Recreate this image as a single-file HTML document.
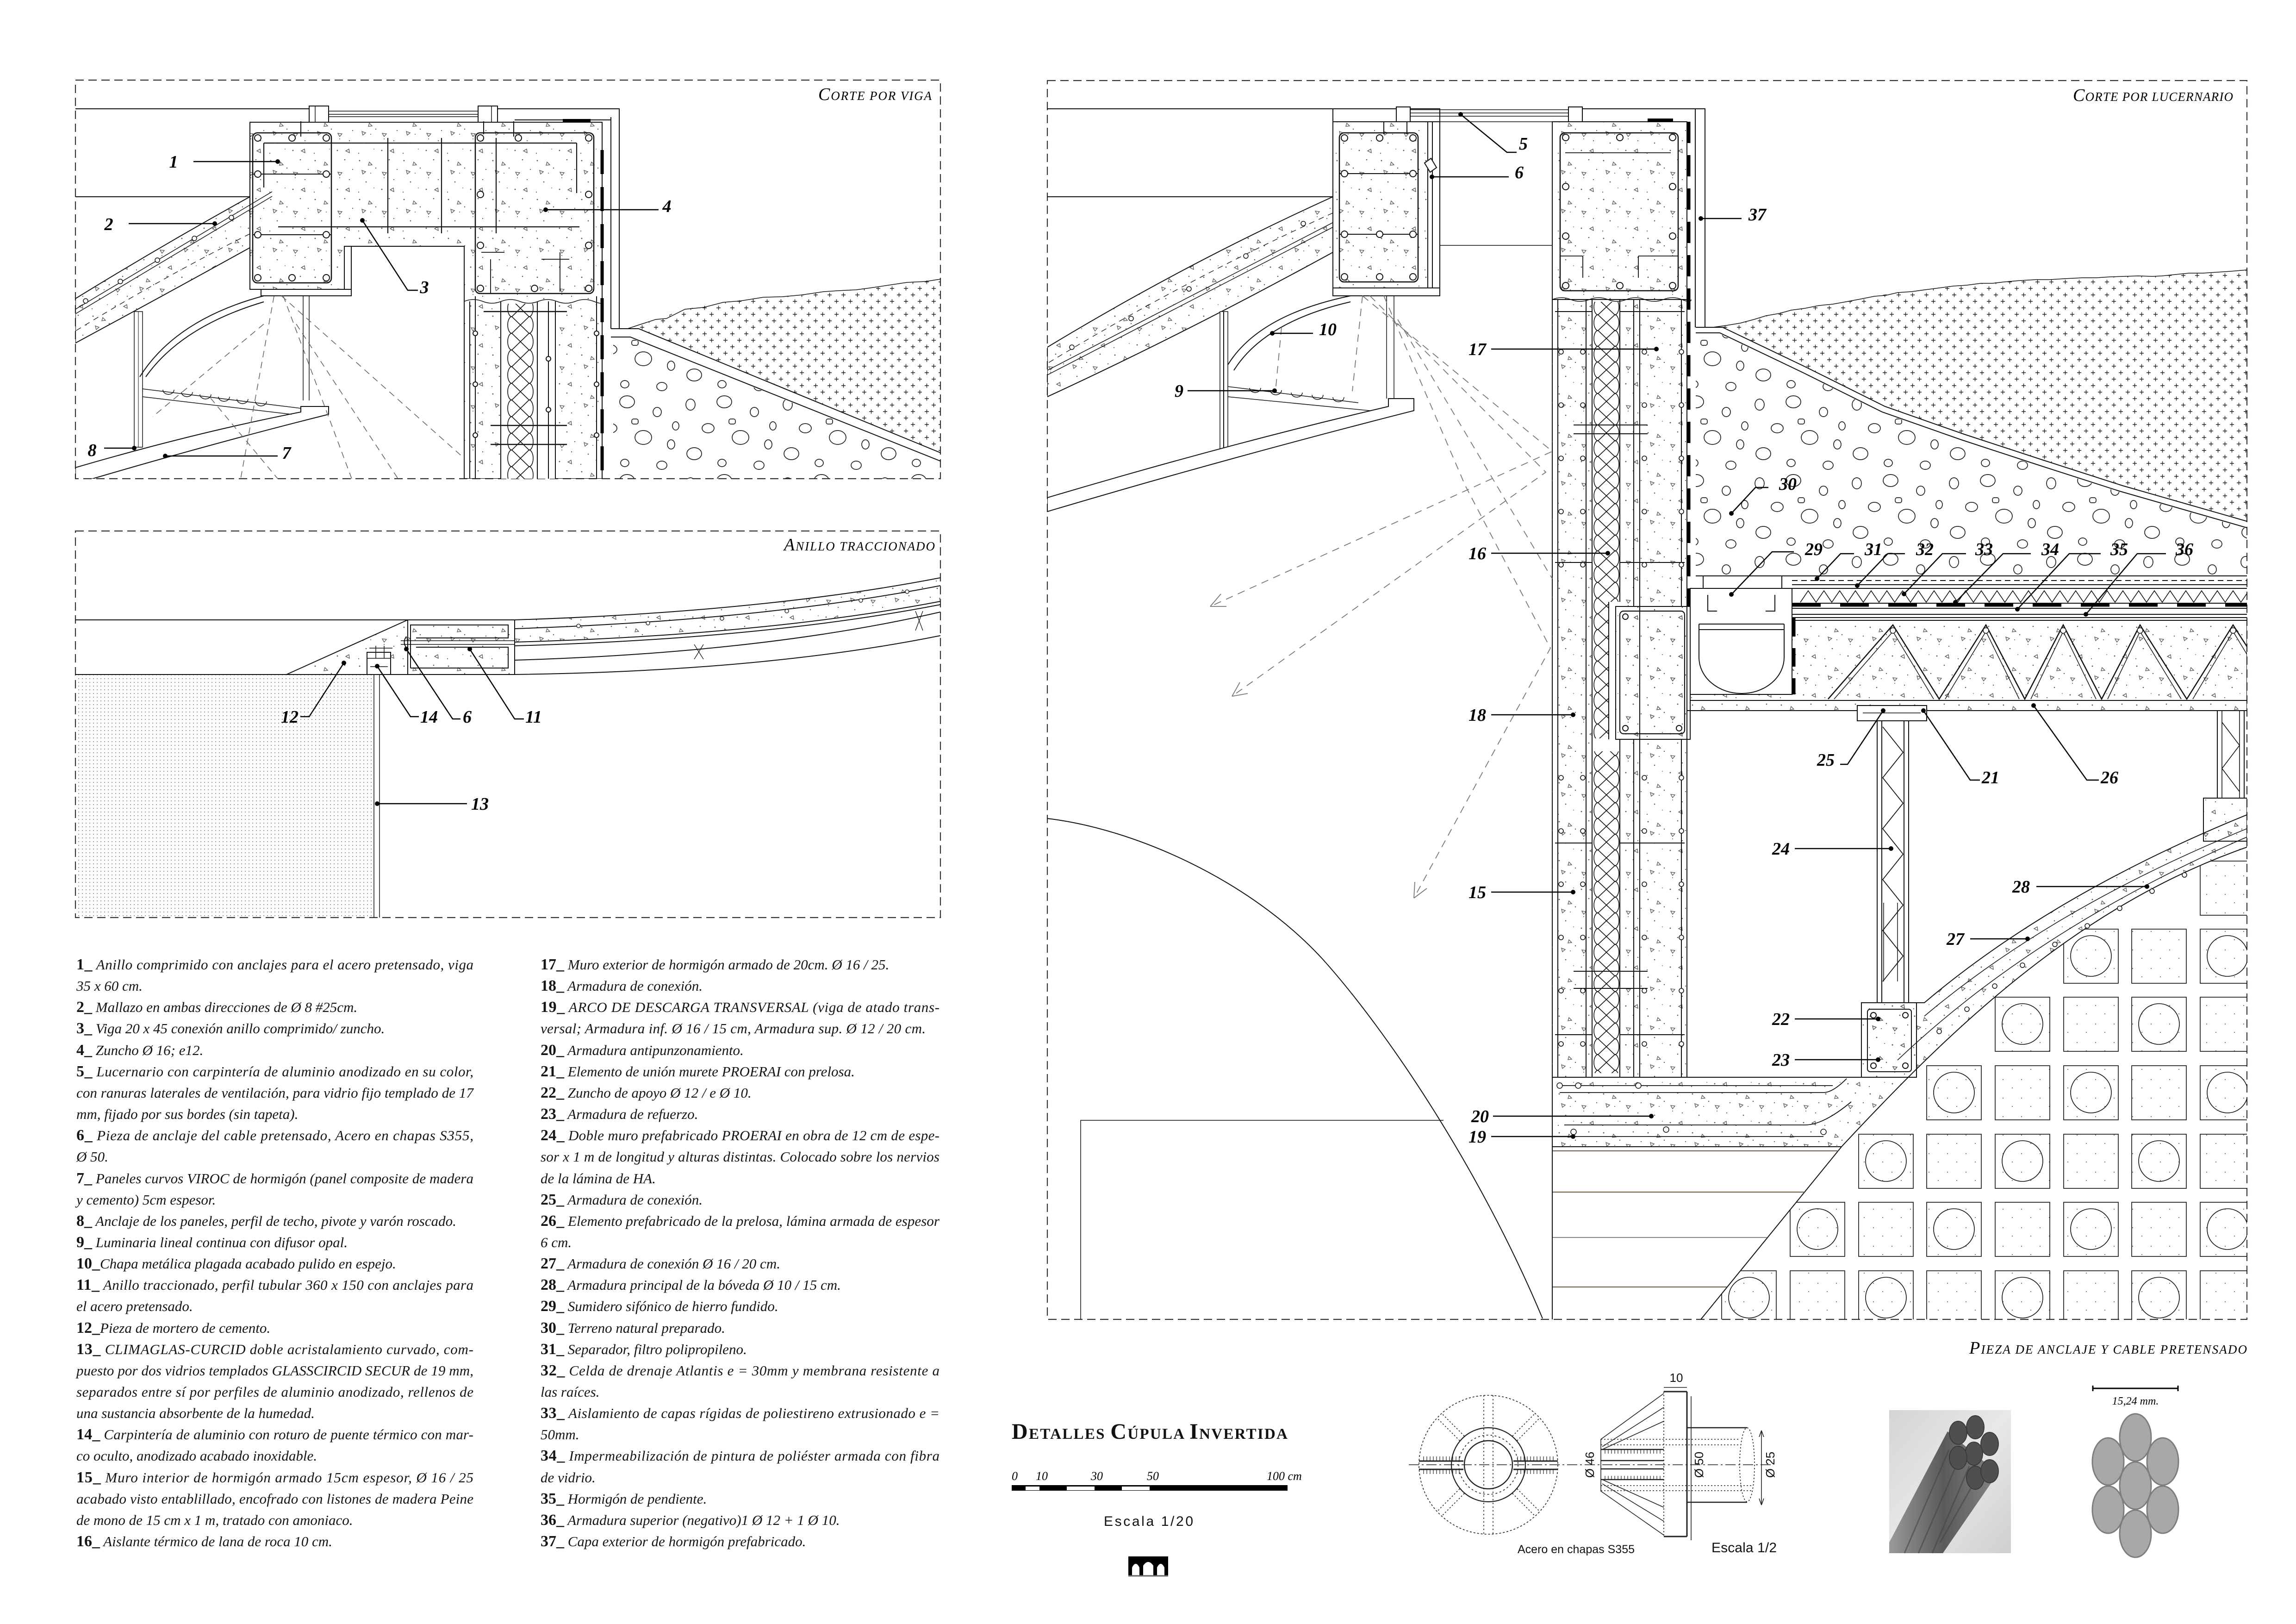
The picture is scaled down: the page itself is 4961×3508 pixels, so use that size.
<!DOCTYPE html>
<html><head><meta charset="utf-8"><title>Detalles Cúpula Invertida</title>
<style>
html,body{margin:0;padding:0;background:#fff;width:4961px;height:3508px;overflow:hidden}
svg{display:block}
.lg{font-family:"Liberation Serif",serif;font-style:italic;font-size:31px;fill:#151515}
.nb{font-weight:bold;font-style:normal;font-size:34px}
.lb{font-family:"Liberation Serif",serif;font-style:italic;font-weight:bold;font-size:38px;fill:#000}
.ti{font-family:"Liberation Serif",serif;font-style:italic;fill:#000}
.sa{font-family:"Liberation Sans",sans-serif;fill:#111}
</style></head><body>
<svg width="4961" height="3508" viewBox="0 0 4961 3508" xmlns="http://www.w3.org/2000/svg" xmlns:xlink="http://www.w3.org/1999/xlink">
<defs>
<pattern id="conc" width="96" height="84" patternUnits="userSpaceOnUse">
<g fill="#555"><circle cx="9" cy="11" r="1.4"/><circle cx="44" cy="27" r="1.2"/><circle cx="73" cy="9" r="1.3"/><circle cx="23" cy="57" r="1.3"/><circle cx="83" cy="52" r="1.1"/><circle cx="57" cy="73" r="1.4"/><circle cx="7" cy="79" r="1.1"/><circle cx="33" cy="38" r="1"/><circle cx="62" cy="48" r="1"/><circle cx="90" cy="30" r="1.1"/><circle cx="40" cy="70" r="0.9"/></g>
<g fill="none" stroke="#555" stroke-width="1.3"><path d="M58 36l9 1-5 6z"/><path d="M14 32l8 3-6 5z"/><path d="M75 74l7-4 1 8z"/><path d="M30 14l6 6-8 1z"/></g>
</pattern>
<pattern id="cross" width="30" height="28" patternUnits="userSpaceOnUse">
<path d="M3 7h9M7.5 2.5v9M18 21h9M22.5 16.5v9" stroke="#222" stroke-width="1.4" fill="none"/>
</pattern>
<pattern id="peb" width="210" height="170" patternUnits="userSpaceOnUse">
<g fill="none" stroke="#222" stroke-width="1.7">
<ellipse cx="22" cy="24" rx="10" ry="12"/><ellipse cx="95" cy="18" rx="16" ry="13"/><ellipse cx="160" cy="40" rx="9" ry="10"/>
<ellipse cx="60" cy="75" rx="13" ry="10"/><ellipse cx="130" cy="95" rx="18" ry="15"/><ellipse cx="190" cy="110" rx="8" ry="10"/>
<ellipse cx="30" cy="130" rx="16" ry="13"/><ellipse cx="90" cy="150" rx="9" ry="8"/><ellipse cx="170" cy="155" rx="11" ry="9"/>
<rect x="105" y="55" width="14" height="11" rx="4"/><ellipse cx="200" cy="70" rx="7" ry="9"/>
</g></pattern>
<pattern id="dots" width="8" height="8" patternUnits="userSpaceOnUse"><circle cx="2" cy="2" r="1" fill="#7a7a7a"/></pattern>
<pattern id="ins1" x="1094" y="0" width="61" height="36" patternUnits="userSpaceOnUse"><path d="M12 0L49 36M49 0L12 36M12 0A9 18 0 0 0 12 36M49 0A9 18 0 0 1 49 36" fill="none" stroke="#111" stroke-width="1.6"/></pattern>
<pattern id="ins3" x="3442" y="0" width="58" height="34" patternUnits="userSpaceOnUse"><path d="M11 0L47 34M47 0L11 34M11 0A9 17 0 0 0 11 34M47 0A9 17 0 0 1 47 34" fill="none" stroke="#111" stroke-width="1.6"/></pattern>
<pattern id="tdots" width="40" height="40" patternUnits="userSpaceOnUse"><circle cx="8" cy="12" r="1.1" fill="#666"/><circle cx="28" cy="30" r="1.1" fill="#666"/></pattern>
<pattern id="vt" width="7" height="10" patternUnits="userSpaceOnUse"><path d="M3 0V10" stroke="#222" stroke-width="1.2"/></pattern>
<linearGradient id="phbg" x1="0" y1="0" x2="1" y2="1"><stop offset="0" stop-color="#d4d4d4"/><stop offset="0.5" stop-color="#e8e8e8"/><stop offset="1" stop-color="#cfcfcf"/></linearGradient>
<linearGradient id="strand" x1="0" y1="0" x2="1" y2="0"><stop offset="0" stop-color="#9a9a9a"/><stop offset="0.5" stop-color="#5a5a5a"/><stop offset="1" stop-color="#858585"/></linearGradient>
<clipPath id="c1"><rect x="163" y="173" width="1869" height="861"/></clipPath>
<clipPath id="c2"><rect x="163" y="1147" width="1869" height="835"/></clipPath>
<clipPath id="c3"><rect x="2263" y="174" width="2592" height="2676"/></clipPath>
<clipPath id="ctile"><path d="M3675 2850L3979 2477C4200 2240 4480 1960 4855 1830V2850Z"/></clipPath>
<g id="rcol" fill="#fff" stroke="#111" stroke-width="1.6"><circle cx="0" cy="760" r="5"/><circle cx="0" cy="875" r="5"/><circle cx="0" cy="990" r="5"/><circle cx="0" cy="1105" r="5"/><circle cx="0" cy="1220" r="5"/><circle cx="0" cy="1680" r="5"/><circle cx="0" cy="1795" r="5"/><circle cx="0" cy="1910" r="5"/><circle cx="0" cy="2025" r="5"/><circle cx="0" cy="2140" r="5"/><circle cx="0" cy="2255" r="5"/></g>
</defs>

<rect x="0" y="0" width="4961" height="3508" fill="#fff"/>

<!-- ================= FRAMES ================= -->
<g fill="none" stroke="#333" stroke-width="2.2" stroke-dasharray="18 10">
<rect x="163" y="173" width="1869" height="861"/>
<rect x="163" y="1147" width="1869" height="835"/>
<rect x="2263" y="174" width="2592" height="2676"/>
</g>

<!-- ================= PANEL 1 : CORTE POR VIGA ================= -->
<g clip-path="url(#c1)" fill="none" stroke="#111" stroke-width="2">
<path d="M163 235H668M1076 235H1338V710"/>
<path d="M1320 253V710M1112 259H1320"/>
<rect x="1216" y="257" width="60" height="8" fill="#000" stroke="none"/>
<path d="M540 264H1301V1034H1003V532H744V625H540Z" fill="url(#conc)"/>
<path d="M564 625H759V639H564ZM744 532V625M759 532V625"/>
<rect x="668" y="229" width="42" height="35" fill="#fff"/>
<rect x="1033" y="229" width="42" height="35" fill="#fff"/>
<path d="M710 240H1033M710 247H1033M710 252H1033M681 229V264M1062 229V264" stroke-width="1.5"/>
<path d="M650 262V295M1110 262V295M1045 262V290" />
<rect x="546" y="287" width="170" height="324" rx="10" stroke-width="2.5"/>
<path d="M546 376H716M546 507H716"/>
<g fill="#fff"><circle cx="557" cy="298" r="7"/><circle cx="631" cy="298" r="7"/><circle cx="705" cy="298" r="7"/><circle cx="557" cy="376" r="7"/><circle cx="705" cy="376" r="7"/><circle cx="557" cy="507" r="7"/><circle cx="705" cy="507" r="7"/><circle cx="557" cy="600" r="7"/><circle cx="631" cy="600" r="7"/><circle cx="705" cy="600" r="7"/></g>
<rect x="1027" y="287" width="256" height="347" rx="10" stroke-width="2.5"/>
<g fill="#fff"><circle cx="1038" cy="298" r="7"/><circle cx="1120" cy="298" r="7"/><circle cx="1272" cy="298" r="7"/><circle cx="1038" cy="420" r="7"/><circle cx="1272" cy="420" r="7"/><circle cx="1038" cy="530" r="7"/><circle cx="1272" cy="530" r="7"/><circle cx="1038" cy="623" r="7"/><circle cx="1155" cy="623" r="7"/><circle cx="1272" cy="623" r="7"/></g>
<path d="M570 309H1246M601 490H1252M838 298V504M954 298V504M1072 298V504M570 309V405M1246 309V417" stroke-width="2.2"/>
<path d="M1040 545H1090M1060 560V634M1170 560H1230M1210 545V630" stroke-width="1.8"/>
<rect x="1082" y="651" width="118" height="383" fill="#fff" stroke="none"/>
<rect x="1094" y="656" width="61" height="378" fill="url(#ins1)" stroke="none"/>
<path d="M1003 651q20-8 40 0t40 0t40 0t40 0t40 0t40 0t40 0t18 0" stroke-width="1.5"/>
<path d="M1015 651V1034M1027 640V1034M1082 651V1034M1161 651V1034M1185 651V1034M1200 651V1034M1289 640V1034"/>
<path d="M1045 673H1225M1060 919H1225M1060 960H1225" stroke-width="2.5"/>
<g fill="#fff"><circle cx="1027" cy="720" r="5"/><circle cx="1027" cy="830" r="5"/><circle cx="1027" cy="940" r="5"/><circle cx="1289" cy="720" r="5"/><circle cx="1289" cy="830" r="5"/><circle cx="1289" cy="940" r="5"/><circle cx="1185" cy="775" r="5"/><circle cx="1185" cy="885" r="5"/></g>
<path d="M1301 324V1034" stroke="#000" stroke-width="7" stroke-dasharray="52 28"/>
<path d="M1356 710L1417 690L1480 668L1563 653L1650 642L1733 637L1810 628L1880 622L1960 610L2032 603V978L1380 710Z" fill="url(#cross)" stroke="none"/>
<path d="M1356 710L1380 702L1417 690L1440 688L1480 668L1520 664L1563 653L1600 650L1650 642L1690 641L1733 637L1780 630L1810 628L1850 626L1880 622L1920 616L1960 610L2000 608L2032 603" stroke-width="1.5"/>
<path d="M1320 710H1380L2032 978M1320 728H1362L2032 996"/>
<path d="M1325 730H1362L2032 998V1034H1325Z" fill="url(#peb)" stroke="none"/>
<path d="M163 425H540"/>
<path d="M540 425Q350 530 163 645V741Q350 640 540 535Z" fill="url(#conc)"/>
<path d="M588 414L163 668M588 424L163 678" stroke-width="1.5"/>
<path d="M540 505Q350 600 163 715" stroke-width="1.3" stroke-dasharray="12 10"/>
<g fill="#fff" stroke-width="1.5"><circle cx="500" cy="470" r="5"/><circle cx="420" cy="515" r="5"/><circle cx="340" cy="562" r="5"/><circle cx="260" cy="608" r="5"/><circle cx="185" cy="650" r="5"/></g>
<rect x="290" y="673" width="18" height="293" stroke-width="1.5"/>
<path d="M299 673V966" stroke-width="1"/>
<path d="M570 639Q380 690 302 814M570 652Q392 705 315 814"/>
<path d="M308 840L650 882M308 857L630 895" stroke-width="1.5"/>
<g stroke-width="1.5"><path d="M352 842a11 9 0 0 0 24 0M392 847a11 9 0 0 0 24 0M432 852a11 9 0 0 0 24 0M472 857a11 9 0 0 0 24 0M512 862a11 9 0 0 0 24 0M552 867a11 9 0 0 0 24 0"/></g>
<path d="M655 639V865M668 639V865" stroke-width="1.5"/>
<path d="M650 878H710V895Q450 960 163 1045V1010Q420 935 650 890Z"/>
<g stroke="#666" stroke-width="1.6" stroke-dasharray="14 10"><path d="M608 639L1003 990M612 639L760 1034M592 640L520 1034M455 860L600 1034M640 700L860 1034M570 700L330 900"/></g>
</g>
<text class="ti" x="2013" y="216" text-anchor="end" font-size="38" textLength="245">C<tspan font-size="27">ORTE POR VIGA</tspan></text>
<g class="lb" text-anchor="middle"><text x="375" y="362">1</text><text x="235" y="497">2</text><text x="917" y="633">3</text><text x="1441" y="458">4</text><text x="199" y="985">8</text><text x="619" y="991">7</text></g>
<path d="M418 349H600M278 483H464M783 476L881 627H903M1179 453H1423M225 968H290M357 985H600" fill="none" stroke="#000" stroke-width="2.5"/>
<g fill="#000"><circle cx="600" cy="349" r="5"/><circle cx="464" cy="483" r="5"/><circle cx="783" cy="476" r="5"/><circle cx="1179" cy="453" r="5"/><circle cx="290" cy="968" r="5"/><circle cx="357" cy="985" r="5"/></g>

<!-- ================= PANEL 2 : ANILLO TRACCIONADO ================= -->
<g clip-path="url(#c2)" fill="none" stroke="#111" stroke-width="2">
<rect x="163" y="1457" width="645" height="525" fill="url(#dots)" stroke="none"/>
<path d="M163 1339H1112M163 1457H808"/>
<path d="M619 1457L881 1339V1457Z" fill="url(#conc)"/>
<rect x="881" y="1339" width="231" height="118" fill="url(#conc)"/>
<path d="M887 1443V1350H1098V1378H899M899 1398H1098V1443H887"/>
<path d="M866 1384H1112M866 1392H1112" stroke-width="1.5"/>
<path d="M878 1375q-9 12 0 24"/>
<path d="M1112 1339Q1650 1322 2032 1248V1299Q1650 1372 1112 1387Z" fill="url(#conc)" stroke="none"/>
<path d="M1112 1339Q1650 1322 2032 1248M1112 1358Q1650 1340 2032 1265M1112 1387Q1650 1372 2032 1299M1112 1395Q1650 1380 2032 1306M1112 1426Q1650 1410 2032 1322M1112 1457Q1650 1450 2032 1373"/>
<path d="M1500 1392L1520 1424M1520 1392L1500 1424M1978 1320L1994 1362M1994 1320L1978 1362" stroke-width="1.3"/>
<g fill="#fff" stroke-width="1.3"><circle cx="1250" cy="1352" r="4"/><circle cx="1400" cy="1346" r="4"/><circle cx="1560" cy="1336" r="4"/><circle cx="1700" cy="1320" r="4"/><circle cx="1860" cy="1297" r="4"/><circle cx="1960" cy="1278" r="4"/></g>
<path d="M808 1457V1982M820 1457V1982" stroke-width="1.5"/>
<rect x="793" y="1409" width="51" height="48" fill="#fff"/>
<path d="M798 1400H848M793 1422H844M812 1395V1422M830 1395V1422M800 1440H838" stroke-width="1.5"/>
</g>
<text class="ti" x="2020" y="1189" text-anchor="end" font-size="38" textLength="326">A<tspan font-size="27">NILLO TRACCIONADO</tspan></text>
<g class="lb"><text x="645" y="1561" text-anchor="end">12</text><text x="908" y="1561">14</text><text x="1000" y="1561">6</text><text x="1135" y="1561">11</text><text x="1018" y="1749">13</text></g>
<path d="M743 1432L668 1548H649M815 1439L887 1548H905M878 1402L978 1553H995M1015 1402L1112 1553H1132M815 1736H1009" fill="none" stroke="#000" stroke-width="2.5"/>
<g fill="#000"><circle cx="743" cy="1432" r="5"/><circle cx="815" cy="1439" r="5"/><circle cx="878" cy="1402" r="5"/><circle cx="1015" cy="1402" r="5"/><circle cx="815" cy="1736" r="5"/></g>

<!-- ================= PANEL 3 : CORTE POR LUCERNARIO ================= -->
<g clip-path="url(#c3)" fill="none" stroke="#111" stroke-width="2">
<path d="M2263 235H2880M2263 425H2880"/>
<path d="M2880 425Q2560 570 2263 750V857Q2560 720 2880 545Z" fill="url(#conc)"/>
<path d="M3094 370L2263 800M3094 380L2263 810" stroke-width="1.5"/>
<path d="M2880 460Q2560 605 2263 785" stroke-width="1.3" stroke-dasharray="12 10"/>
<g fill="#fff" stroke-width="1.5"><circle cx="2816" cy="483" r="5"/><circle cx="2692" cy="553" r="5"/><circle cx="2569" cy="624" r="5"/><circle cx="2444" cy="688" r="5"/><circle cx="2316" cy="750" r="5"/></g>
<rect x="2880" y="235" width="231" height="404" fill="#fff"/>
<rect x="2880" y="263" width="205" height="359" fill="url(#conc)"/>
<path d="M3085 263V622M3095 263V622M2918 622H3111M2880 263H3111"/>
<rect x="2894" y="287" width="170" height="322" rx="10" stroke-width="2.5"/>
<path d="M2894 375H3064M2894 506H3064"/>
<g fill="#fff"><circle cx="2905" cy="298" r="7"/><circle cx="2981" cy="298" r="7"/><circle cx="3053" cy="298" r="7"/><circle cx="2905" cy="375" r="7"/><circle cx="3053" cy="375" r="7"/><circle cx="2905" cy="506" r="7"/><circle cx="2981" cy="506" r="7"/><circle cx="3053" cy="506" r="7"/><circle cx="2905" cy="598" r="7"/><circle cx="2981" cy="598" r="7"/><circle cx="3053" cy="598" r="7"/></g>
<path d="M3078 352l14-10 12 20-14 10z" fill="#fff"/>
<path d="M2990 262V290M3040 262V290" />
<path d="M3017 237H3419M3047 244H3389M3047 251H3389M3047 263H3389" stroke-width="1.5"/>
<rect x="3017" y="231" width="30" height="32" fill="#fff"/>
<rect x="3389" y="231" width="30" height="32" fill="#fff"/>
<path d="M3111 530H3354" stroke-width="1.5"/>
<path d="M3419 235H3684V707M3663 235V707M3354 263V2327"/>
<rect x="3354" y="263" width="291" height="384" fill="url(#conc)"/>
<rect x="3560" y="256" width="55" height="7" fill="#000" stroke="none"/>
<rect x="3371" y="287" width="255" height="341" rx="10" stroke-width="2.5"/>
<g fill="#fff"><circle cx="3383" cy="297" r="7"/><circle cx="3500" cy="297" r="7"/><circle cx="3614" cy="297" r="7"/><circle cx="3383" cy="403" r="7"/><circle cx="3614" cy="403" r="7"/><circle cx="3383" cy="510" r="7"/><circle cx="3614" cy="510" r="7"/><circle cx="3383" cy="617" r="7"/><circle cx="3500" cy="617" r="7"/><circle cx="3614" cy="617" r="7"/></g>
<path d="M3371 553H3420M3420 553V600M3540 553H3626M3540 553V600M3382 330H3610" stroke-width="1.8"/>
<rect x="3354" y="647" width="86" height="1680" fill="url(#conc)" stroke="none"/>
<rect x="3500" y="647" width="145" height="1680" fill="url(#conc)" stroke="none"/>
<rect x="3442" y="652" width="58" height="648" fill="url(#ins3)" stroke="none"/>
<rect x="3442" y="1300" width="34" height="295" fill="url(#ins3)" stroke="none"/>
<rect x="3442" y="1623" width="58" height="695" fill="url(#ins3)" stroke="none"/>
<path d="M3354 647q20-8 40 0t40 0t40 0t40 0t40 0t40 0t40 0t20 0" stroke-width="1.5"/>
<path d="M3366 647V2327M3427 647V2327M3440 647V2327M3500 647V1300M3500 1597V2327M3476 1300V1597M3530 647V1310M3530 1597V2327M3543 647V2327M3633 647V1310M3633 1597V2327M3645 263V2327"/>
<path d="M3360 673H3440M3500 673H3640M3360 1215H3440M3500 1215H3640M3400 918H3560M3400 937H3560M3360 1821H3440M3500 1821H3640M3400 2098H3560M3400 2135H3560M3360 2235H3440M3500 2235H3640" stroke-width="2"/>
<use xlink:href="#rcol" x="3373"/><use xlink:href="#rcol" x="3420"/><use xlink:href="#rcol" x="3553"/><use xlink:href="#rcol" x="3633"/>
<path d="M3649 263V1310" stroke="#000" stroke-width="7" stroke-dasharray="46 26"/>
<path d="M3701 707L3760 698L3816 682L3870 670L3930 660L3988 652L4050 640L4100 632L4159 626L4220 618L4280 612L4330 609L4400 604L4460 602L4500 600L4560 598L4620 596L4672 596L4730 590L4790 588L4855 583V1126L4586 1049L4415 994L4244 938L4073 878L3902 793L3722 707Z" fill="url(#cross)" stroke="none"/>
<path d="M3701 707L3730 703L3760 698L3790 690L3816 682L3845 677L3870 670L3900 666L3930 660L3960 657L3988 652L4020 646L4050 640L4075 638L4100 632L4130 630L4159 626L4190 622L4220 618L4250 616L4280 612L4305 612L4330 609L4365 606L4400 604L4430 604L4460 602L4500 600L4530 600L4560 598L4590 597L4620 596L4650 597L4672 596L4700 593L4730 590L4760 590L4790 588L4820 586L4855 583" stroke-width="1.5"/>
<path d="M3664 707H3722L3902 793L4073 878L4244 938L4415 994L4586 1049L4855 1126M3664 719H3716L3896 805L4067 890L4238 950L4409 1006L4580 1061L4855 1140"/>
<path d="M3664 721H3716L3896 807L4067 892L4238 952L4409 1008L4580 1063L4855 1142V1242H3664Z" fill="url(#peb)" stroke="none"/>
<path d="M3664 1244H4855M3872 1263H4855M3872 1271H4855M3872 1303H4855M3872 1314H4855M3872 1327H4855M3872 1334H4855"/>
<path d="M3872 1254H4855" stroke-dasharray="12 8"/>
<path d="M3890 1301l17-25l17 25l17-25l17 25l17-25l17 25l17-25l17 25l17-25l17 25l17-25l17 25l17-25l17 25l17-25l17 25l17-25l17 25l17-25l17 25l17-25l17 25l17-25l17 25l17-25l17 25l17-25l17 25l17-25l17 25l17-25l17 25l17-25l17 25l17-25l17 25l17-25l17 25l17-25l17 25l17-25l17 25l17-25l17 25l17-25l17 25l17-25l17 25l17-25l17 25l17-25l17 25l17-25l17 25l17-25l17 25l17-25l17 25" stroke-width="1.6"/>
<path d="M3872 1307H4855" stroke="#000" stroke-width="7" stroke-dasharray="62 42"/>
<rect x="3652" y="1340" width="1203" height="195" fill="url(#conc)"/>
<path d="M3652 1513H4855"/>
<path d="M3950 1510L4090 1350L4190 1510L4291 1350L4375 1510L4458 1350L4541 1510L4624 1350L4725 1510L4825 1350L4870 1420" stroke-width="2.5"/>
<path d="M3963 1510L4090 1364L4178 1510M4203 1510L4291 1364L4363 1510M4388 1510L4458 1364L4529 1510M4554 1510L4624 1364L4713 1510M4738 1510L4825 1364L4865 1430" stroke-width="1.5"/>
<g fill="#fff" stroke-width="1.5"><circle cx="4090" cy="1362" r="6"/><circle cx="4291" cy="1362" r="6"/><circle cx="4458" cy="1362" r="6"/><circle cx="4624" cy="1362" r="6"/><circle cx="4825" cy="1362" r="6"/></g>
<rect x="3652" y="1271" width="220" height="229" fill="#fff"/>
<rect x="3680" y="1244" width="170" height="27" fill="#fff"/>
<path d="M3671 1348H3855M3671 1360H3855M3671 1348V1420A92 78 0 0 0 3855 1420V1348"/>
<path d="M3690 1285v35h20M3835 1285v35h-20M3652 1500H3872M3652 1535H3872"/>
<path d="M3876 1335V1500" stroke="#000" stroke-width="7" stroke-dasharray="40 25"/>
<rect x="3491" y="1310" width="161" height="287" fill="url(#conc)"/>
<rect x="3500" y="1320" width="140" height="265" rx="8" stroke-width="2.2"/>
<g fill="#fff"><circle cx="3512" cy="1332" r="6"/><circle cx="3512" cy="1573" r="6"/><circle cx="3628" cy="1573" r="6"/></g>
<path d="M3645 1535H4855"/>
<rect x="4056" y="1535" width="68" height="631" fill="#fff"/>
<path d="M4066 1535V2166M4114 1535V2166"/>
<path d="M4068 1570L4112 1625L4068 1680L4112 1735L4068 1790L4112 1845L4068 1900L4112 1955L4068 2010L4112 2065L4068 2120" stroke-width="1.8"/>
<path d="M4070 1950V2120M4100 1950V2120" stroke-width="1.5"/>
<rect x="4013" y="1524" width="150" height="33" fill="#fff"/>
<path d="M4025 1540H4150" stroke-width="1.5"/>
<rect x="4791" y="1535" width="58" height="189" fill="#fff"/>
<path d="M4801 1535V1724M4839 1535V1724M4801 1560L4839 1610L4801 1660L4839 1710" stroke-width="1.6"/>
<rect x="4761" y="1724" width="94" height="93" fill="url(#conc)"/>
<path d="M3354 2327H4022V2166H4158C4330 2020 4560 1880 4855 1760V1830C4480 1960 4200 2240 3979 2477H3354Z" fill="url(#conc)"/>
<path d="M3979 2477L3675 2850"/>
<path d="M4158 2195C4330 2050 4560 1910 4855 1790M4100 2290C4300 2100 4550 1940 4855 1808" stroke-width="1.5"/>
<path d="M3370 2345H3960M3370 2360H3940Q3960 2360 3990 2330M3380 2430H3900Q3940 2430 4000 2380M3370 2455H3940" stroke-width="1.8"/>
<g fill="#fff" stroke-width="1.5"><circle cx="3370" cy="2345" r="6"/><circle cx="3410" cy="2345" r="6"/><circle cx="3540" cy="2345" r="6"/><circle cx="3400" cy="2445" r="6"/><circle cx="3600" cy="2440" r="6"/><circle cx="3940" cy="2445" r="6"/><circle cx="4190" cy="2228" r="5"/><circle cx="4250" cy="2180" r="5"/><circle cx="4310" cy="2130" r="5"/><circle cx="4370" cy="2085" r="5"/><circle cx="4440" cy="2040" r="5"/><circle cx="4510" cy="2000" r="5"/><circle cx="4580" cy="1962" r="5"/><circle cx="4650" cy="1925" r="5"/><circle cx="4720" cy="1890" r="5"/></g>
<rect x="4022" y="2166" width="119" height="161" fill="url(#conc)"/>
<rect x="4035" y="2180" width="95" height="135" rx="6" stroke-width="2"/>
<g fill="#fff"><circle cx="4048" cy="2193" r="6"/><circle cx="4117" cy="2193" r="6"/><circle cx="4048" cy="2302" r="6"/><circle cx="4117" cy="2302" r="6"/></g>
<path d="M3354 2486H3972" stroke="#6b5a45"/>
<path d="M3354 2575H3899" stroke="#6b5a45"/>
<path d="M3354 2673H3818" stroke="#888"/>
<path d="M3354 2780H3731" stroke="#6b5a45"/>
<path d="M3354 2327V2850"/>
<g clip-path="url(#ctile)" stroke-width="1.6">
<g fill="url(#tdots)">
<rect x="4754" y="1860" width="118" height="117"/>
<rect x="4459" y="2007" width="118" height="117"/><rect x="4606" y="2007" width="118" height="117"/><rect x="4754" y="2007" width="118" height="117"/>
<rect x="4311" y="2154" width="118" height="117"/><rect x="4459" y="2154" width="118" height="117"/><rect x="4606" y="2154" width="118" height="117"/><rect x="4754" y="2154" width="118" height="117"/>
<rect x="4163" y="2302" width="118" height="117"/><rect x="4311" y="2302" width="118" height="117"/><rect x="4459" y="2302" width="118" height="117"/><rect x="4606" y="2302" width="118" height="117"/><rect x="4754" y="2302" width="118" height="117"/>
<rect x="4016" y="2450" width="118" height="117"/><rect x="4163" y="2450" width="118" height="117"/><rect x="4311" y="2450" width="118" height="117"/><rect x="4459" y="2450" width="118" height="117"/><rect x="4606" y="2450" width="118" height="117"/><rect x="4754" y="2450" width="118" height="117"/>
<rect x="3868" y="2597" width="118" height="117"/><rect x="4016" y="2597" width="118" height="117"/><rect x="4163" y="2597" width="118" height="117"/><rect x="4311" y="2597" width="118" height="117"/><rect x="4459" y="2597" width="118" height="117"/><rect x="4606" y="2597" width="118" height="117"/><rect x="4754" y="2597" width="118" height="117"/>
<rect x="3720" y="2745" width="118" height="117"/><rect x="3868" y="2745" width="118" height="117"/><rect x="4016" y="2745" width="118" height="117"/><rect x="4163" y="2745" width="118" height="117"/><rect x="4311" y="2745" width="118" height="117"/><rect x="4459" y="2745" width="118" height="117"/><rect x="4606" y="2745" width="118" height="117"/><rect x="4754" y="2745" width="118" height="117"/>
</g>
<g>
<circle cx="4518" cy="2065" r="44"/><circle cx="4813" cy="2065" r="44"/>
<circle cx="4370" cy="2212" r="44"/><circle cx="4665" cy="2212" r="44"/>
<circle cx="4222" cy="2360" r="44"/><circle cx="4518" cy="2360" r="44"/><circle cx="4813" cy="2360" r="44"/>
<circle cx="4075" cy="2508" r="44"/><circle cx="4370" cy="2508" r="44"/><circle cx="4665" cy="2508" r="44"/>
<circle cx="3927" cy="2655" r="44"/><circle cx="4222" cy="2655" r="44"/><circle cx="4518" cy="2655" r="44"/><circle cx="4813" cy="2655" r="44"/>
<circle cx="3779" cy="2803" r="44"/><circle cx="4075" cy="2803" r="44"/><circle cx="4370" cy="2803" r="44"/><circle cx="4665" cy="2803" r="44"/>
</g>
</g>
<path d="M2263 1768C2450 1790 2700 1900 2858 2072C3000 2230 3200 2530 3333 2848"/>
<path d="M2335 2850V2420H3119" stroke-width="1.5"/>
<rect x="2636" y="673" width="17" height="303" fill="#fff" stroke-width="1.5"/>
<path d="M2644 673V976"/>
<path d="M2918 639Q2720 680 2653 788M2918 652Q2732 695 2666 800"/>
<path d="M2653 835L2935 870M2653 857L3000 891" stroke-width="1.5"/>
<path d="M2700 838a11 9 0 0 0 24 0M2745 843a11 9 0 0 0 24 0M2790 848a11 9 0 0 0 24 0M2835 853a11 9 0 0 0 24 0M2880 858a11 9 0 0 0 24 0" stroke-width="1.5"/>
<path d="M2996 639V861M3012 639V861" stroke-width="1.5"/>
<path d="M3000 861H3055V887Q2650 990 2263 1105V1075Q2650 960 3000 878Z" fill="#fff"/>
<g stroke="#777" stroke-width="1.8" stroke-dasharray="16 12">
<path d="M2944 639L3354 975L2615 1310"/>
<path d="M2960 639L3340 1020L2662 1504"/>
<path d="M2990 639L3166 1049L3350 1400L3055 1940"/>
<path d="M2944 639L2922 845M2769 707L2756 844"/>
<path d="M3020 690L3354 1250"/>
</g>
<path d="M2615 1310L2650 1310M2615 1310L2638 1283M2662 1504L2696 1498M2662 1504L2679 1474M3055 1940L3083 1919M3055 1940L3057 1905" stroke="#777" stroke-width="1.8"/>
</g>
<text class="ti" x="4825" y="218" text-anchor="end" font-size="38" textLength="346">C<tspan font-size="27">ORTE POR LUCERNARIO</tspan></text>
<g class="lb">
<text x="3282" y="323">5</text><text x="3273" y="385">6</text><text x="3778" y="476">37</text>
<text x="2850" y="724">10</text><text x="2538" y="857">9</text>
<text x="3173" y="767">17</text><text x="3173" y="1208">16</text><text x="3173" y="1557">18</text><text x="3173" y="1940">15</text>
<text x="3179" y="2424">20</text><text x="3173" y="2468">19</text>
<text x="3844" y="1058">30</text><text x="3900" y="1199">29</text><text x="4029" y="1199">31</text><text x="4140" y="1199">32</text><text x="4268" y="1199">33</text><text x="4411" y="1199">34</text><text x="4560" y="1199">35</text><text x="4701" y="1199">36</text>
<text x="3926" y="1654">25</text><text x="4282" y="1692">21</text><text x="4539" y="1692">26</text>
<text x="3829" y="1846">24</text><text x="4348" y="1928">28</text><text x="4206" y="2041">27</text><text x="3829" y="2214">22</text><text x="3829" y="2302">23</text>
</g>
<path d="M3156 247L3256 329H3277M3094 382H3260M3675 472H3763M2749 720H2837M2566 844H2754M3222 754H3579M3222 1195H3474M3222 1544H3399M3222 1927H3399M3226 2411H3568M3222 2455H3399M3741 1109L3793 1053H3821M3741 1284L3829 1192H3876M3926 1250L3977 1196H4006M4013 1265L4079 1196H4116M4114 1283L4197 1196H4248M4225 1301L4328 1196H4388M4359 1316L4471 1196H4539M4507 1327L4618 1196H4680M4069 1535L3992 1651H3976M4156 1535L4257 1685H4278M4394 1524L4509 1685H4535M3878 1833H4086M4400 1915H4639M4257 2028H4381M3878 2201H4058M3878 2289H4058" fill="none" stroke="#000" stroke-width="2.5"/>
<g fill="#000"><circle cx="3156" cy="247" r="5"/><circle cx="3094" cy="382" r="5"/><circle cx="3675" cy="472" r="5"/><circle cx="2749" cy="720" r="5"/><circle cx="2754" cy="844" r="5"/><circle cx="3579" cy="754" r="5"/><circle cx="3474" cy="1195" r="5"/><circle cx="3399" cy="1544" r="5"/><circle cx="3399" cy="1927" r="5"/><circle cx="3568" cy="2411" r="5"/><circle cx="3399" cy="2455" r="5"/><circle cx="3741" cy="1109" r="5"/><circle cx="3741" cy="1284" r="5"/><circle cx="3926" cy="1250" r="5"/><circle cx="4013" cy="1265" r="5"/><circle cx="4114" cy="1283" r="5"/><circle cx="4225" cy="1301" r="5"/><circle cx="4359" cy="1316" r="5"/><circle cx="4507" cy="1327" r="5"/><circle cx="4069" cy="1535" r="5"/><circle cx="4156" cy="1535" r="5"/><circle cx="4394" cy="1524" r="5"/><circle cx="4086" cy="1833" r="5"/><circle cx="4639" cy="1915" r="5"/><circle cx="4381" cy="2028" r="5"/><circle cx="4058" cy="2201" r="5"/><circle cx="4058" cy="2289" r="5"/></g>

<!-- ================= LEGEND ================= -->
<g class="lg">
<text x="165" y="2094" textLength="858"><tspan class="nb">1_</tspan> Anillo comprimido con anclajes para el acero pretensado, viga</text>
<text x="165" y="2140">35 x 60 cm.</text>
<text x="165" y="2186"><tspan class="nb">2_</tspan> Mallazo en ambas direcciones de Ø 8 #25cm.</text>
<text x="165" y="2232"><tspan class="nb">3_</tspan> Viga 20 x 45 conexión anillo comprimido/ zuncho.</text>
<text x="165" y="2279"><tspan class="nb">4_</tspan> Zuncho Ø 16; e12.</text>
<text x="165" y="2325" textLength="858"><tspan class="nb">5_</tspan> Lucernario con carpintería de aluminio anodizado en su color,</text>
<text x="165" y="2371" textLength="858">con ranuras laterales de ventilación, para vidrio fijo templado de 17</text>
<text x="165" y="2417">mm, fijado por sus bordes (sin tapeta).</text>
<text x="165" y="2463" textLength="858"><tspan class="nb">6_</tspan> Pieza de anclaje del cable pretensado, Acero en chapas S355,</text>
<text x="165" y="2509">Ø 50.</text>
<text x="165" y="2556" textLength="858"><tspan class="nb">7_</tspan> Paneles curvos VIROC de hormigón (panel composite de madera</text>
<text x="165" y="2602">y cemento) 5cm espesor.</text>
<text x="165" y="2648"><tspan class="nb">8_</tspan> Anclaje de los paneles, perfil de techo, pivote y varón roscado.</text>
<text x="165" y="2694"><tspan class="nb">9_</tspan> Luminaria lineal continua con difusor opal.</text>
<text x="165" y="2740"><tspan class="nb">10_</tspan>Chapa metálica plagada acabado pulido en espejo.</text>
<text x="165" y="2786" textLength="858"><tspan class="nb">11_</tspan> Anillo traccionado, perfil tubular 360 x 150 con anclajes para</text>
<text x="165" y="2832">el acero pretensado.</text>
<text x="165" y="2879"><tspan class="nb">12_</tspan>Pieza de mortero de cemento.</text>
<text x="165" y="2925" textLength="858"><tspan class="nb">13_</tspan> CLIMAGLAS-CURCID doble acristalamiento curvado, com-</text>
<text x="165" y="2971" textLength="858">puesto por dos vidrios templados GLASSCIRCID SECUR de 19 mm,</text>
<text x="165" y="3017" textLength="858">separados entre sí por perfiles de aluminio anodizado, rellenos de</text>
<text x="165" y="3063">una sustancia absorbente de la humedad.</text>
<text x="165" y="3109" textLength="858"><tspan class="nb">14_</tspan> Carpintería de aluminio con roturo de puente térmico con mar-</text>
<text x="165" y="3155">co oculto, anodizado acabado inoxidable.</text>
<text x="165" y="3202" textLength="858"><tspan class="nb">15_</tspan> Muro interior de hormigón armado 15cm espesor, Ø 16 / 25</text>
<text x="165" y="3248" textLength="858">acabado visto entablillado, encofrado con listones de madera Peine</text>
<text x="165" y="3294">de mono de 15 cm x 1 m, tratado con amoniaco.</text>
<text x="165" y="3340"><tspan class="nb">16_</tspan> Aislante térmico de lana de roca 10 cm.</text>

<text x="1168" y="2094"><tspan class="nb">17_</tspan> Muro exterior de hormigón armado de 20cm. Ø 16 / 25.</text>
<text x="1168" y="2140"><tspan class="nb">18_</tspan> Armadura de conexión.</text>
<text x="1168" y="2186" textLength="862"><tspan class="nb">19_</tspan> ARCO DE DESCARGA TRANSVERSAL (viga de atado trans-</text>
<text x="1168" y="2232" textLength="832">versal; Armadura inf. Ø 16 / 15 cm, Armadura sup. Ø 12 / 20 cm.</text>
<text x="1168" y="2279"><tspan class="nb">20_</tspan> Armadura antipunzonamiento.</text>
<text x="1168" y="2325"><tspan class="nb">21_</tspan> Elemento de unión murete PROERAI con prelosa.</text>
<text x="1168" y="2371"><tspan class="nb">22_</tspan> Zuncho de apoyo Ø 12 / e Ø 10.</text>
<text x="1168" y="2417"><tspan class="nb">23_</tspan> Armadura de refuerzo.</text>
<text x="1168" y="2463" textLength="862"><tspan class="nb">24_</tspan> Doble muro prefabricado PROERAI en obra de 12 cm de espe-</text>
<text x="1168" y="2509" textLength="862">sor x 1 m de longitud y alturas distintas. Colocado sobre los nervios</text>
<text x="1168" y="2556">de la lámina de HA.</text>
<text x="1168" y="2602"><tspan class="nb">25_</tspan> Armadura de conexión.</text>
<text x="1168" y="2648" textLength="862"><tspan class="nb">26_</tspan> Elemento prefabricado de la prelosa, lámina armada de espesor</text>
<text x="1168" y="2694">6 cm.</text>
<text x="1168" y="2740"><tspan class="nb">27_</tspan> Armadura de conexión Ø 16 / 20 cm.</text>
<text x="1168" y="2786"><tspan class="nb">28_</tspan> Armadura principal de la bóveda Ø 10 / 15 cm.</text>
<text x="1168" y="2832"><tspan class="nb">29_</tspan> Sumidero sifónico de hierro fundido.</text>
<text x="1168" y="2879"><tspan class="nb">30_</tspan> Terreno natural preparado.</text>
<text x="1168" y="2925"><tspan class="nb">31_</tspan> Separador, filtro polipropileno.</text>
<text x="1168" y="2971" textLength="862"><tspan class="nb">32_</tspan> Celda de drenaje Atlantis e = 30mm y membrana resistente a</text>
<text x="1168" y="3017">las raíces.</text>
<text x="1168" y="3063" textLength="862"><tspan class="nb">33_</tspan> Aislamiento de capas rígidas de poliestireno extrusionado e =</text>
<text x="1168" y="3109">50mm.</text>
<text x="1168" y="3155" textLength="862"><tspan class="nb">34_</tspan> Impermeabilización de pintura de poliéster armada con fibra</text>
<text x="1168" y="3202">de vidrio.</text>
<text x="1168" y="3248"><tspan class="nb">35_</tspan> Hormigón de pendiente.</text>
<text x="1168" y="3294"><tspan class="nb">36_</tspan> Armadura superior (negativo)1 Ø 12 + 1 Ø 10.</text>
<text x="1168" y="3340"><tspan class="nb">37_</tspan> Capa exterior de hormigón prefabricado.</text>
</g>

<!-- ================= TITLE BLOCK ================= -->
<text x="2186" y="3108" textLength="596" font-family="Liberation Serif, serif" font-weight="bold" font-size="48" fill="#111">D<tspan font-size="33">ETALLES </tspan>C<tspan font-size="33">ÚPULA </tspan>I<tspan font-size="33">NVERTIDA</tspan></text>
<g class="ti" font-size="26"><text x="2186" y="3197">0</text><text x="2238" y="3197">10</text><text x="2357" y="3197">30</text><text x="2478" y="3197">50</text><text x="2737" y="3197">100 cm</text></g>
<rect x="2186" y="3208" width="596" height="12" fill="#000"/>
<g fill="#fff"><rect x="2216" y="3211" width="30" height="8"/><rect x="2305" y="3211" width="60" height="8"/><rect x="2424" y="3211" width="60" height="8"/></g>
<text class="sa" x="2385" y="3296" font-size="30" textLength="193">Escala 1/20</text>
<rect x="2438" y="3362" width="86" height="42" fill="#000"/>
<path d="M2446 3404V3386Q2454 3370 2462 3386V3404ZM2470 3404V3382Q2481 3366 2492 3382V3404ZM2500 3404V3386Q2508 3370 2516 3386V3404Z" fill="#fff"/>
<path d="M2438 3404H2524" stroke="#666" stroke-width="3"/>

<!-- ================= ANCHOR PIECE ================= -->
<text class="ti" x="4855" y="2924" text-anchor="end" font-size="38" textLength="600">P<tspan font-size="27">IEZA DE ANCLAJE Y CABLE PRETENSADO</tspan></text>
<g fill="none" stroke="#222" stroke-width="1.6">
<circle cx="3216" cy="3164" r="150" stroke-dasharray="4 4"/>
<circle cx="3216" cy="3164" r="52" stroke-width="2.4"/>
<circle cx="3216" cy="3164" r="80" stroke-width="2.2"/>
<circle cx="3216" cy="3164" r="64" stroke-dasharray="4 5"/>
<path d="M3206 3014V3314M3226 3014V3314" stroke-dasharray="3 5"/>
<path d="M3268 3226L3316 3274M3278 3216L3326 3264M3154 3216L3106 3264M3164 3226L3116 3274M3164 3102L3116 3054M3154 3112L3106 3064M3278 3112L3326 3064M3268 3102L3316 3054" stroke-dasharray="3 4"/>
<path d="M3066 3156H3162M3066 3174H3162M3270 3156H3366M3270 3174H3366" stroke-width="3"/>
<path d="M3044 3164H3830" stroke-dasharray="22 6 4 6"/>
<path d="M3645 3006V3319M3595 3006H3645M3595 3319H3645" stroke-width="3"/>
<path d="M3595 3006V3319" stroke-dasharray="3 4"/>
<path d="M3654 3016V3327"/>
<path d="M3595 3010L3459 3109V3221L3595 3316M3595 3040L3462 3125M3595 3070L3462 3131M3595 3286L3462 3205M3595 3256L3462 3196" />
<path d="M3459 3131H3595M3459 3155H3595M3459 3173H3595M3459 3196H3595" stroke-width="2.4"/>
<path d="M3459 3109H3757M3459 3121H3757M3459 3209H3784M3459 3220H3784" stroke-dasharray="3 4"/>
<path d="M3645 3084H3775M3645 3245H3775" stroke-width="2.4"/>
<ellipse cx="3775" cy="3164" rx="16" ry="80" stroke-dasharray="3 4"/>
<path d="M3806 3090V3251M3806 3090l-5 14M3806 3090l5 14M3806 3251l-5-14M3806 3251l5-14"/>
<path d="M3595 2997H3645"/>
</g>
<rect x="3070" y="3146" width="88" height="9" fill="url(#vt)"/><rect x="3070" y="3175" width="88" height="9" fill="url(#vt)"/>
<rect x="3274" y="3146" width="88" height="9" fill="url(#vt)"/><rect x="3274" y="3175" width="88" height="9" fill="url(#vt)"/>
<rect x="3462" y="3132" width="130" height="8" fill="url(#vt)"/><rect x="3462" y="3188" width="130" height="8" fill="url(#vt)"/>
<text class="sa" x="3622" y="2985" font-size="26" text-anchor="middle">10</text>
<text class="sa" font-size="26" text-anchor="middle" transform="translate(3444 3164) rotate(-90)">Ø 46</text>
<text class="sa" font-size="26" text-anchor="middle" transform="translate(3680 3164) rotate(-90)">Ø 50</text>
<text class="sa" font-size="26" text-anchor="middle" transform="translate(3834 3164) rotate(-90)">Ø 25</text>
<text class="sa" x="3279" y="3355" font-size="25" textLength="253">Acero en chapas S355</text>
<text class="sa" x="3698" y="3353" font-size="30" textLength="141">Escala 1/2</text>
<!-- photo -->
<rect x="4082" y="3046" width="263" height="309" fill="url(#phbg)"/>
<path d="M4208 3092L4317 3182L4198 3355H4082V3332Z" fill="url(#strand)"/>
<path d="M4211 3132L4115 3355M4233 3152L4145 3355M4255 3167L4175 3355M4277 3182L4192 3332" stroke="#444" stroke-width="3" fill="none" opacity="0.6"/>
<g fill="#4f4f4f" stroke="#3a3a3a" stroke-width="2"><ellipse cx="4231" cy="3095" rx="19" ry="25"/><ellipse cx="4268" cy="3083" rx="19" ry="25"/><ellipse cx="4299" cy="3119" rx="19" ry="25"/><ellipse cx="4265" cy="3140" rx="19" ry="25"/><ellipse cx="4231" cy="3149" rx="19" ry="25"/><ellipse cx="4268" cy="3192" rx="19" ry="25"/><ellipse cx="4299" cy="3178" rx="19" ry="25"/></g>
<!-- strand section -->
<path d="M4522 2999H4706M4522 2993V3005M4706 2993V3005" stroke="#000" stroke-width="3"/>
<text class="ti" x="4614" y="3034" font-size="24" text-anchor="middle">15,24 mm.</text>
<g fill="#a8a8a8" stroke="#7d7d7d" stroke-width="3">
<ellipse cx="4614" cy="3105" rx="34" ry="51"/><ellipse cx="4614" cy="3209" rx="34" ry="51"/><ellipse cx="4614" cy="3313" rx="34" ry="51"/>
<ellipse cx="4555" cy="3157" rx="34" ry="51"/><ellipse cx="4555" cy="3261" rx="34" ry="51"/><ellipse cx="4673" cy="3157" rx="34" ry="51"/><ellipse cx="4673" cy="3261" rx="34" ry="51"/>
</g>
</svg>
</body></html>
